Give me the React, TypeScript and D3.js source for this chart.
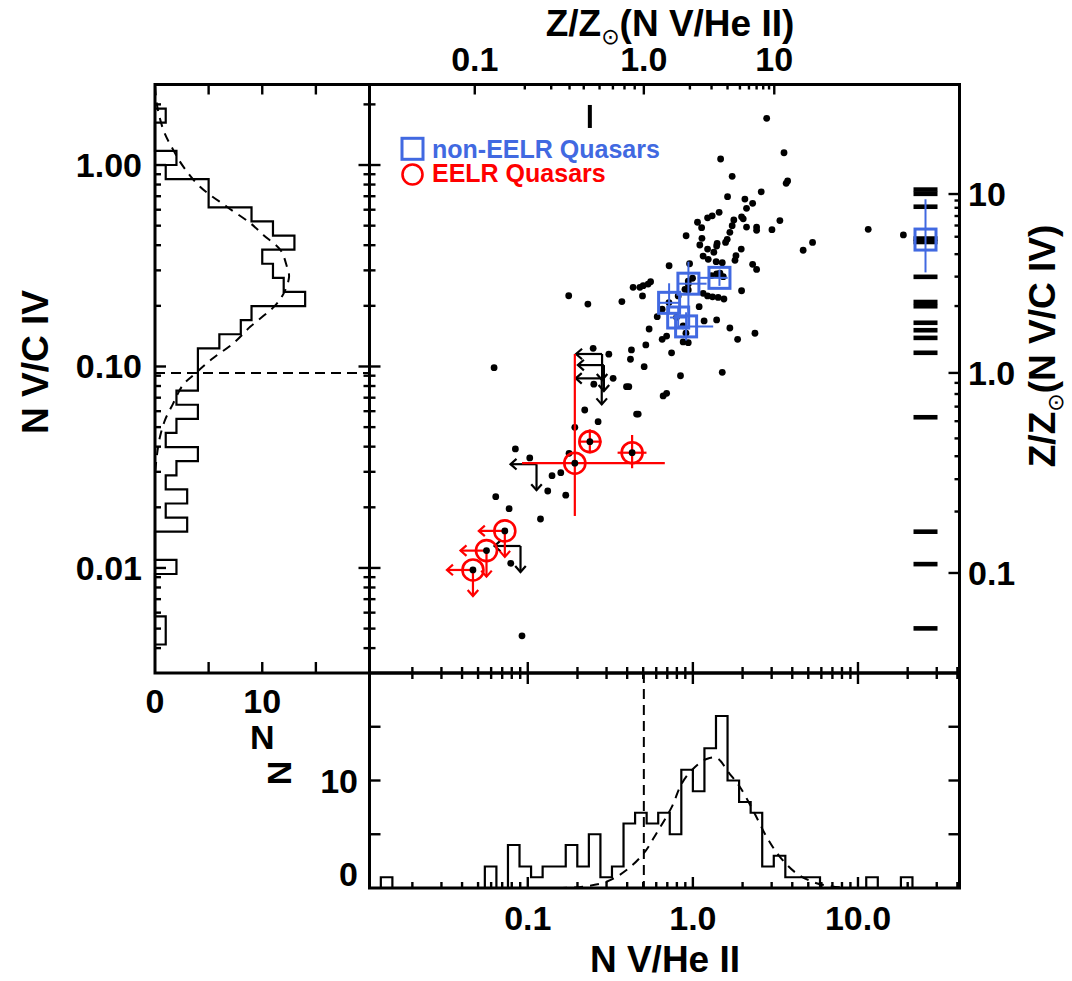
import React from "react";
import * as d3 from "d3";

const FONT = "'Liberation Sans', Arial, Helvetica, sans-serif";
const BLUE = "#4169e1";
const RED = "#ff0000";

// ---------------- data (log10 values) ----------------
// quasar sample, black dots: log10(N V/He II), log10(N V/C IV)
const dotLogNVHeII = [
  0.447, 0.552, 0.168, 0.238, 0.574, 0.565, 0.414, 0.21, 0.315, 0.362, 0.325, 0.159, 0.117, 0.089, 0.028,
  0.053, 0.248, 0.295, 0.305, 0.238, 0.325, 0.386, 0.386, 0.527, 0.479, 0.224, -0.041, 0.055, 0.208, 0.198,
  0.147, 0.042, 0.144, 0.089, 0.127, 0.293, 0.062, 0.261, 0.093, 0.141, 0.255, 0.178, -0.02, -0.144, 0.362,
  0.386, 0.144, 0.164, 0.113, 0.184, -0.002, -0.028, -0.256, -0.271, -0.301, -0.321, -0.362, -0.048, -0.028,
  0.295, 0.062, 0.089, 0.119, 0.153, 0.188, -0.305, -0.089, -0.752, -0.636, -0.43, -0.145, -0.186, 0.038,
  -0.216, -0.099, 0.068, 0.144, -0.265, -0.059, 0.224, -0.159, -0.186, -0.059, -0.028, 0.271, 0.376, -0.285,
  -0.372, -0.604, -0.509, -0.378, -0.129, -0.295, -0.075, 0.178, -0.483, 1.062, 1.275, 0.725, 0.668, -0.028,
  -0.042, -0.6, -0.402, -0.388, -0.18, -0.159, -0.655, -0.574, -0.341, -0.331, -0.715, -0.75, -1.075, -0.988,
  -0.8, -0.853, -0.879, -0.77, -1.194, -1.113, -0.923, -1.035, -1.103, -1.204,
];
const dotLogNVCIV = [
  0.232, 0.061, 0.03, -0.056, -0.079, -0.091, -0.133, -0.157, -0.169, -0.19, -0.215, -0.235, -0.252, -0.262,
  -0.284, -0.311, -0.273, -0.257, -0.267, -0.301, -0.308, -0.308, -0.324, -0.276, -0.321, -0.334, -0.351,
  -0.364, -0.369, -0.384, -0.389, -0.397, -0.402, -0.417, -0.433, -0.417, -0.452, -0.45, -0.468, -0.48,
  -0.473, -0.485, -0.49, -0.5, -0.493, -0.518, -0.541, -0.537, -0.549, -0.554, -0.562, -0.591, -0.579,
  -0.591, -0.599, -0.607, -0.607, -0.617, -0.62, -0.624, -0.637, -0.65, -0.654, -0.657, -0.665, -0.65,
  -0.65, -0.649, -0.69, -0.678, -0.683, -0.716, -0.703, -0.753, -0.756, -0.774, -0.769, -0.814, -0.798,
  -0.809, -0.849, -0.865, -0.878, -0.882, -0.865, -0.835, -0.893, -0.918, -0.91, -0.939, -0.964, -0.932,
  -1.001, -1.046, -1.029, -1.059, -0.319, -0.347, -0.384, -0.423, -0.576, -0.835, -1.088, -1.1, -1.1,
  -1.146, -1.133, -1.216, -1.274, -1.236, -1.236, -1.302, -1.431, -1.409, -1.454, -1.527, -1.542, -1.618,
  -1.639, -1.646, -1.706, -1.757, -2.337, -1.977, -1.006,
];

// upper limits (black)
const limLogNVHeII = [-0.55, -0.539, -0.552, -0.947, -1.044];
const limLogNVCIV = [-0.938, -0.993, -1.059, -1.485, -1.891];

// EELR quasars with measurements
const eelrLogNVHeII = [-0.715, -0.624, -0.368];
const eelrLogNVCIV = [-1.48, -1.373, -1.428];
const eelrErrXLo = [0.32, 0.061, 0.088];
const eelrErrXHi = [0.545, 0.071, 0.087];
const eelrErrYLo = [0.262, 0.058, 0.077];
const eelrErrYHi = [0.542, 0.061, 0.088];
// EELR quasars, upper limits
const eelrLimLogNVHeII = [-1.139, -1.25, -1.332];
const eelrLimLogNVCIV = [-1.816, -1.914, -2.01];

// non-EELR quasars
const qsoLogNVHeII = [0.161, -0.027, -0.144, -0.089, -0.041, 1.409];
const qsoLogNVCIV = [-0.56, -0.589, -0.684, -0.757, -0.801, -0.37];
const qsoErrXLo = [0.131, 0.06, 0.06, 0.05, 0.05, 0];
const qsoErrXHi = [0.05, 0.11, 0.06, 0.05, 0.164, 0];
const qsoErrYLo = [0.04, 0.131, 0.05, 0.05, 0.07, 0.163];
const qsoErrYHi = [0.04, 0.109, 0.097, 0.05, 0.07, 0.2];

// objects with only N V/C IV (right rug) and only N V/He II (top rug)
const rugLogNVCIV = [-0.122, -0.143, -0.207, -0.365, -0.382, -0.555, -0.68, -0.701, -0.783, -0.82, -0.858, -0.932, -1.252, -1.82, -1.981, -2.3];
const rugRightLogNVHeII = 1.409;
const rugTopLogNVHeII = [-0.624];
const rugTopLogNVCIV = 0.241;

// histogram of log N V/C IV (left panel), bins of 0.07 dex from the top edge downward
const leftHistTopEdge = 0.28;
const leftHistBin = 0.07;
const leftHistCounts = [1, 0, 0, 2, 1, 5, 5, 9, 11, 13, 10, 11, 12, 14, 9, 8, 6, 4, 4, 4, 2, 4, 2, 1, 4, 2, 1, 3, 1, 3, 0, 0, 2, 0, 0, 0, 1, 1];
// fitted curve (dashed)
const leftFitLog = [0.39, 0.306, 0.174, 0.074, -0.008, -0.108, -0.207, -0.289, -0.347, -0.422, -0.505, -0.554, -0.637, -0.703, -0.802, -0.885, -0.959, -1.042, -1.092, -1.183, -1.266, -1.348, -1.448, -1.54];
const leftFitN = [0.02, 0.16, 0.78, 1.71, 2.64, 4.2, 6.7, 8.9, 10.1, 11.7, 12.3, 12.5, 12.0, 11.1, 8.9, 7.3, 5.4, 3.6, 2.6, 1.7, 0.93, 0.47, 0.16, 0.0];

// histogram of log N V/He II (bottom panel), bins of 0.07 dex
const bottomHistLeftEdge = -1.89;
const bottomHistBin = 0.07;
const bottomHistCounts = [1, 0, 0, 0, 0, 0, 0, 0, 0, 2, 0, 4, 2, 1, 2, 2, 4, 2, 5, 1, 2, 6, 7, 6, 7, 5, 11, 9, 13, 16, 10, 8, 7, 2, 3, 1, 1, 1, 0, 0, 0, 0, 1, 0, 0, 1];
const bottomFitLog = [-0.816, -0.667, -0.523, -0.402, -0.297, -0.22, -0.129, -0.068, 0.002, 0.083, 0.144, 0.224, 0.285, 0.365, 0.447, 0.527, 0.628, 0.749, 0.891];
const bottomFitN = [0.0, 0.12, 0.58, 1.67, 3.24, 5.1, 7.5, 9.7, 11.1, 12.0, 12.1, 10.6, 9.4, 7.2, 4.75, 2.9, 1.36, 0.44, 0.06];

// metallicity conversions (Z/Zsun <-> line ratio)
const zTopZ = [0.1, 0.2, 0.3, 0.5, 1, 2, 3, 5, 10];
const zTopLogNVHeII = [-1.321, -1.018, -0.858, -0.661, -0.297, -0.018, 0.113, 0.285, 0.493];
const zRightZ = [0.1, 0.2, 0.5, 1, 2, 3, 5, 10];
const zRightLogNVCIV = [-2.025, -1.72, -1.357, -1.032, -0.7, -0.554, -0.356, -0.144];
const zTickLabels = ["0.1", "1.0", "10"];
const zTickValues = [0.1, 1, 10];

const mainXLabels = ["0.1", "1.0", "10.0"];
const mainXLabelValues = [0.1, 1, 10];
const mainYLabels = ["1.00", "0.10", "0.01"];
const mainYLabelValues = [1, 0.1, 0.01];

// ---------------------------------------------------------------------------
const p10 = (d: number) => Math.pow(10, d);

function logTicks(lo: number, hi: number) {
  const res: { v: number; major: boolean }[] = [];
  for (let d = Math.floor(Math.log10(lo)); d <= Math.ceil(Math.log10(hi)); d++) {
    for (let k = 1; k <= 9; k++) {
      const v = k * Math.pow(10, d);
      if (v > lo * 1.0001 && v < hi / 1.0001) res.push({ v, major: k === 1 });
    }
  }
  return res;
}

function Arrow({ x1, y1, x2, y2, color }: { x1: number; y1: number; x2: number; y2: number; color: string }) {
  const a = Math.atan2(y2 - y1, x2 - x1);
  const h = 8;
  const sp = Math.PI * 0.23;
  const p1 = [x2 - h * Math.cos(a - sp), y2 - h * Math.sin(a - sp)];
  const p2 = [x2 - h * Math.cos(a + sp), y2 - h * Math.sin(a + sp)];
  return (
    <g stroke={color} strokeWidth={2.2} fill="none">
      <line x1={x1} y1={y1} x2={x2} y2={y2} />
      <polyline points={`${p1[0]},${p1[1]} ${x2},${y2} ${p2[0]},${p2[1]}`} />
    </g>
  );
}

export default function App() {
  const L = 369.5, R = 959.5, T = 84.5, B = 673, BB = 888, LL = 155;
  const x = d3.scaleLog().domain([0.011, 41.2]).range([L, R]);
  const y = d3.scaleLog().domain([0.00301, 2.51]).range([B, T]);
  const hx = d3.scaleLinear().domain([0, 20]).range([LL, L]);
  const hy = d3.scaleLinear().domain([0, 20]).range([BB, B]);

  const zTop = d3.scaleLinear().domain(zTopZ.map(Math.log10)).range(zTopLogNVHeII);
  const zRight = d3.scaleLinear().domain(zRightZ.map(Math.log10)).range(zRightLogNVCIV);
  const zTopX = (z: number) => x(p10(zTop(Math.log10(z))));
  const zRightY = (z: number) => y(p10(zRight(Math.log10(z))));

  const xt = logTicks(0.011, 41.2);
  const yt = logTicks(0.00301, 2.51);
  const zt: { v: number; major: boolean }[] = [];
  [0.1, 1].forEach((d) => { for (let k = 1; k <= 9; k++) zt.push({ v: k * d, major: k === 1 }); });
  zt.push({ v: 10, major: true });

  const MAJ = 11, MIN = 6;
  const tickStroke = { stroke: "#000", strokeWidth: 2.4 };

  // histograms
  const leftPts: [number, number][] = [];
  const edgeL = (i: number) => y(p10(leftHistTopEdge - i * leftHistBin));
  leftPts.push([hx(0), edgeL(0)]);
  leftHistCounts.forEach((c, i) => { leftPts.push([hx(c), edgeL(i)]); leftPts.push([hx(c), edgeL(i + 1)]); });
  leftPts.push([hx(0), edgeL(leftHistCounts.length)]);
  const bottomPts: [number, number][] = [];
  const edgeB = (i: number) => x(p10(bottomHistLeftEdge + i * bottomHistBin));
  bottomPts.push([edgeB(0), hy(0)]);
  bottomHistCounts.forEach((c, i) => { bottomPts.push([edgeB(i), hy(c)]); bottomPts.push([edgeB(i + 1), hy(c)]); });
  bottomPts.push([edgeB(bottomHistCounts.length), hy(0)]);
  const line = d3.line();
  const curve = d3.line().curve(d3.curveCatmullRom);
  const leftFit = curve(leftFitLog.map((l, i) => [hx(leftFitN[i]), y(p10(l))] as [number, number]));
  const bottomFit = curve(bottomFitLog.map((l, i) => [x(p10(l)), hy(bottomFitN[i])] as [number, number]));

  const solarX = zTopX(1);
  const solarY = zRightY(1);
  const ARW = 26;

  const txt = { fontFamily: FONT, fontWeight: 700 as const, fill: "#000" };
  const LBL = 34, TTL = 37;

  return (
    <svg width={1072} height={981} style={{ position: "absolute", left: 0, top: 0, background: "#fff" }}>
      <rect x={0} y={0} width={1072} height={981} fill="#fff" />
      {/* ---------- histograms ---------- */}
      <path d={line(leftPts) || ""} fill="none" stroke="#000" strokeWidth={2.2} />
      <path d={leftFit || ""} fill="none" stroke="#000" strokeWidth={2} strokeDasharray="9,7" />
      <line x1={LL} x2={L} y1={solarY} y2={solarY} stroke="#000" strokeWidth={2} strokeDasharray="10,6" />
      <path d={line(bottomPts) || ""} fill="none" stroke="#000" strokeWidth={2.2} />
      <path d={bottomFit || ""} fill="none" stroke="#000" strokeWidth={2} strokeDasharray="9,7" />
      <line x1={solarX} x2={solarX} y1={B} y2={BB} stroke="#000" strokeWidth={2} strokeDasharray="10,6" />

      {/* ---------- main scatter ---------- */}
      {dotLogNVHeII.map((lx, i) => (
        <circle key={"d" + i} cx={x(p10(lx))} cy={y(p10(dotLogNVCIV[i]))} r={3.4} fill="#000" />
      ))}
      {limLogNVHeII.map((lx, i) => {
        const cx = x(p10(lx)), cy = y(p10(limLogNVCIV[i]));
        return (
          <g key={"l" + i}>
            <Arrow x1={cx} y1={cy} x2={cx - ARW} y2={cy} color="#000" />
            <Arrow x1={cx} y1={cy} x2={cx} y2={cy + ARW} color="#000" />
          </g>
        );
      })}
      {eelrLogNVHeII.map((lx, i) => {
        const cx = x(p10(lx)), cy = y(p10(eelrLogNVCIV[i]));
        return (
          <g key={"e" + i} stroke={RED} strokeWidth={2.2}>
            <line x1={x(p10(lx - eelrErrXLo[i]))} x2={x(p10(lx + eelrErrXHi[i]))} y1={cy} y2={cy} />
            <line x1={cx} x2={cx} y1={y(p10(eelrLogNVCIV[i] - eelrErrYLo[i]))} y2={y(p10(eelrLogNVCIV[i] + eelrErrYHi[i]))} />
            <circle cx={cx} cy={cy} r={10.5} fill="none" strokeWidth={2.6} />
            <circle cx={cx} cy={cy} r={3.4} fill="#000" stroke="none" />
          </g>
        );
      })}
      {eelrLimLogNVHeII.map((lx, i) => {
        const cx = x(p10(lx)), cy = y(p10(eelrLimLogNVCIV[i]));
        return (
          <g key={"el" + i}>
            <Arrow x1={cx} y1={cy} x2={cx - ARW} y2={cy} color={RED} />
            <Arrow x1={cx} y1={cy} x2={cx} y2={cy + ARW} color={RED} />
            <circle cx={cx} cy={cy} r={10.5} fill="none" stroke={RED} strokeWidth={2.6} />
            <circle cx={cx} cy={cy} r={3.4} fill="#000" />
          </g>
        );
      })}
      {/* rugs */}
      {rugLogNVCIV.map((l, i) => (
        <rect key={"r" + i} x={x(p10(rugRightLogNVHeII)) - 12} y={y(p10(l)) - 2.3} width={24} height={4.6} fill="#000" />
      ))}
      {rugTopLogNVHeII.map((l, i) => (
        <rect key={"t" + i} x={x(p10(l)) - 2} y={y(p10(rugTopLogNVCIV)) - 11.5} width={4} height={23} fill="#000" />
      ))}
      {qsoLogNVHeII.map((lx, i) => {
        const cx = x(p10(lx)), cy = y(p10(qsoLogNVCIV[i]));
        return (
          <g key={"q" + i} stroke={BLUE}>
            {qsoErrXLo[i] + qsoErrXHi[i] > 0 && (
              <line x1={x(p10(lx - qsoErrXLo[i]))} x2={x(p10(lx + qsoErrXHi[i]))} y1={cy} y2={cy} strokeWidth={2} />
            )}
            <line x1={cx} x2={cx} y1={y(p10(qsoLogNVCIV[i] - qsoErrYLo[i]))} y2={y(p10(qsoLogNVCIV[i] + qsoErrYHi[i]))} strokeWidth={2} />
            <rect x={cx - 10.5} y={cy - 10.5} width={21} height={21} fill="none" strokeWidth={3} />
          </g>
        );
      })}

      {/* ---------- legend ---------- */}
      <rect x={402} y={138.3} width={21} height={21} fill="none" stroke={BLUE} strokeWidth={3} />
      <text x={432} y={157.5} {...txt} fill={BLUE} fontSize={25}>non-EELR Quasars</text>
      <circle cx={412.5} cy={174.5} r={10} fill="none" stroke={RED} strokeWidth={2.6} />
      <text x={432} y={182} {...txt} fill={RED} fontSize={25}>EELR Quasars</text>

      {/* ---------- ticks ---------- */}
      <g {...tickStroke}>
        {xt.map((t, i) => {
          const px = x(t.v), len = t.major ? MAJ : MIN;
          return (
            <g key={"xt" + i}>
              <line x1={px} x2={px} y1={B} y2={B - len} />
              <line x1={px} x2={px} y1={B} y2={B + len} />
              <line x1={px} x2={px} y1={BB} y2={BB - len} />
            </g>
          );
        })}
        {yt.map((t, i) => {
          const py = y(t.v), len = t.major ? MAJ : MIN;
          return (
            <g key={"yt" + i}>
              <line x1={L} x2={L + len} y1={py} y2={py} />
              <line x1={L} x2={L - len} y1={py} y2={py} />
              <line x1={LL} x2={LL + len} y1={py} y2={py} />
            </g>
          );
        })}
        {zt.map((t, i) => {
          const px = zTopX(t.v), py = zRightY(t.v);
          return (
            <g key={"zt" + i}>
              <line x1={px} x2={px} y1={T} y2={T + (t.major ? 10 : 5)} />
              <line x1={R} x2={R - (t.major ? MAJ : 5)} y1={py} y2={py} />
            </g>
          );
        })}
        {[5, 10, 15].map((c) => (
          <g key={"c" + c}>
            <line x1={hx(c)} x2={hx(c)} y1={T} y2={T + 10} />
            <line x1={hx(c)} x2={hx(c)} y1={B} y2={B - 11} />
            <line x1={L} x2={L + 11} y1={hy(c)} y2={hy(c)} />
            <line x1={R} x2={R - 11} y1={hy(c)} y2={hy(c)} />
          </g>
        ))}
      </g>

      {/* ---------- frames ---------- */}
      <g fill="none" stroke="#000" strokeWidth={3}>
        <rect x={L} y={T} width={R - L} height={B - T} />
        <rect x={LL} y={T} width={L - LL} height={B - T} />
        <rect x={L} y={B} width={R - L} height={BB - B} />
      </g>

      {/* ---------- labels ---------- */}
      {mainXLabels.map((s, i) => (
        <text key={"xl" + i} x={x(mainXLabelValues[i])} y={930} textAnchor="middle" fontSize={LBL} {...txt}>{s}</text>
      ))}
      <text x={665} y={972} textAnchor="middle" fontSize={TTL} {...txt}>N V/He II</text>
      {mainYLabels.map((s, i) => (
        <text key={"yl" + i} x={142} y={y(mainYLabelValues[i]) + 12} textAnchor="end" fontSize={LBL} {...txt}>{s}</text>
      ))}
      <text transform={`translate(48,362) rotate(-90)`} textAnchor="middle" fontSize={TTL} {...txt}>N V/C IV</text>
      {zTickLabels.map((s, i) => (
        <text key={"zl" + i} x={zTopX(zTickValues[i])} y={71} textAnchor="middle" fontSize={LBL} {...txt}>{s}</text>
      ))}
      <text x={670} y={36} textAnchor="middle" fontSize={TTL} {...txt}>
        Z/Z<tspan dy={8} fontSize={22} fontFamily="'DejaVu Sans', sans-serif" fontWeight={400}>⊙</tspan>
        <tspan dy={-8}>(N V/He II)</tspan>
      </text>
      {zTickLabels.map((s, i) => (
        <text key={"zr" + i} x={968} y={zRightY(zTickValues[i]) + 12} textAnchor="start" fontSize={LBL} {...txt}>{s}</text>
      ))}
      <text transform={`translate(1055,346) rotate(-90)`} textAnchor="middle" fontSize={TTL} {...txt}>
        Z/Z<tspan dy={8} fontSize={22} fontFamily="'DejaVu Sans', sans-serif" fontWeight={400}>⊙</tspan>
        <tspan dy={-8}>(N V/C IV)</tspan>
      </text>
      {/* left panel count axis */}
      <text x={hx(0)} y={713} textAnchor="middle" fontSize={LBL} {...txt}>0</text>
      <text x={hx(10)} y={713} textAnchor="middle" fontSize={LBL} {...txt}>10</text>
      <text x={hx(10)} y={749} textAnchor="middle" fontSize={LBL} {...txt}>N</text>
      {/* bottom panel count axis */}
      <text x={358} y={hy(10) + 12} textAnchor="end" fontSize={LBL} {...txt}>10</text>
      <text x={358} y={hy(0) - 2} textAnchor="end" fontSize={LBL} {...txt}>0</text>
      <text transform={`translate(291,773) rotate(-90)`} textAnchor="middle" fontSize={LBL} {...txt}>N</text>
    </svg>
  );
}
